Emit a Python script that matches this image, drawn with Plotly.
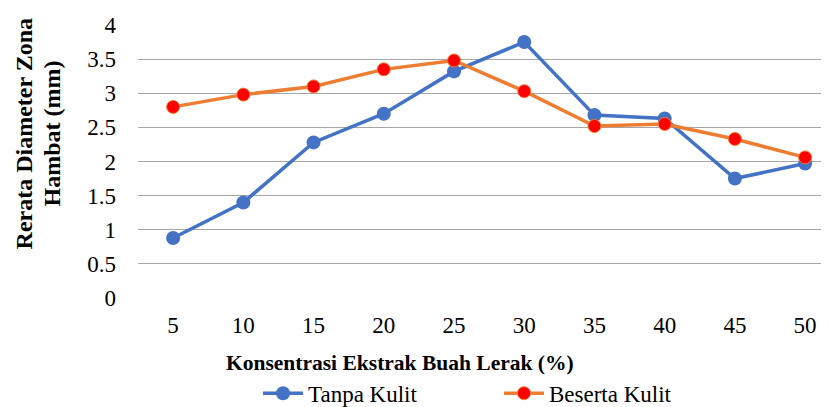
import plotly.graph_objects as go

categories = ["5", "10", "15", "20", "25", "30", "35", "40", "45", "50"]
tanpa_kulit = [0.88, 1.40, 2.28, 2.70, 3.32, 3.75, 2.68, 2.63, 1.75, 1.97]
beserta_kulit = [2.80, 2.98, 3.10, 3.35, 3.48, 3.03, 2.52, 2.55, 2.33, 2.06]
y_ticks = [0, 0.5, 1, 1.5, 2, 2.5, 3, 3.5, 4]
y_tick_text = ["0", "0.5", "1", "1.5", "2", "2.5", "3", "3.5", "4"]
x_title = "Konsentrasi Ekstrak Buah Lerak (%)"
y_title_lines = ["Rerata Diameter Zona", "Hambat (mm)"]

FONT = "Liberation Serif"

# page body has an 8px margin; plot area must sit at window x 138..829, y 24.5..297.7
OFF = 8
PLOT_W = 829 - 138
PLOT_H = 297.7 - 24.5

fig = go.Figure()
fig.add_trace(go.Scatter(
    x=categories, y=tanpa_kulit, name="Tanpa Kulit", mode="lines+markers",
    line=dict(color="#4472C4", width=3.5),
    marker=dict(color="#4472C4", size=14, line=dict(width=0)),
    cliponaxis=False,
))
fig.add_trace(go.Scatter(
    x=categories, y=beserta_kulit, name="Beserta Kulit", mode="lines+markers",
    line=dict(color="#ED7D31", width=3.5),
    marker=dict(color="#FF0000", size=13, line=dict(color="#ED7D31", width=1)),
    cliponaxis=False,
))

annotations = [
    dict(
        text="<b>" + x_title + "</b>",
        xref="paper", yref="paper", x=(400 - 138) / PLOT_W, y=(297.7 - 363) / PLOT_H,
        xanchor="center", yanchor="middle", showarrow=False,
        font=dict(family=FONT, size=21.5, color="#000000"),
    ),
]
for line_text, px in zip(y_title_lines, [24, 52]):
    annotations.append(dict(
        text="<b>" + line_text + "</b>",
        xref="paper", yref="paper", x=-(138 - px) / PLOT_W, y=(297.7 - 133) / PLOT_H,
        xanchor="center", yanchor="middle", showarrow=False, textangle=-90,
        font=dict(family=FONT, size=24, color="#000000"),
    ))

fig.update_layout(
    width=829, height=407,
    margin=dict(l=138 - OFF, r=OFF, t=24.5 - OFF, b=407 - (297.7 - OFF), autoexpand=False),
    paper_bgcolor="white", plot_bgcolor="white",
    font=dict(family=FONT, size=23, color="#000000"),
    showlegend=True,
    legend=dict(
        orientation="h", x=(258 - 138) / PLOT_W, xanchor="left",
        y=(297.7 - 393) / PLOT_H, yanchor="middle",
        font=dict(family=FONT, size=23, color="#000000"),
        entrywidth=186, itemwidth=40, tracegroupgap=0,
        bgcolor="rgba(0,0,0,0)",
    ),
    xaxis=dict(
        type="category", range=[-0.5, 9.34], automargin=False,
        showgrid=False, zeroline=False, showline=False,
        ticks="", ticklabelstandoff=11,
        tickfont=dict(family=FONT, size=23, color="#000000"),
    ),
    yaxis=dict(
        range=[0, 4], tickvals=y_ticks, ticktext=y_tick_text, automargin=False,
        showgrid=True, gridcolor="#A6A6A6", gridwidth=1.2,
        zeroline=False, showline=False, ticks="", ticklabelstandoff=21,
        tickfont=dict(family=FONT, size=23, color="#000000"),
    ),
    annotations=annotations,
)

fig.write_html("out.html")
